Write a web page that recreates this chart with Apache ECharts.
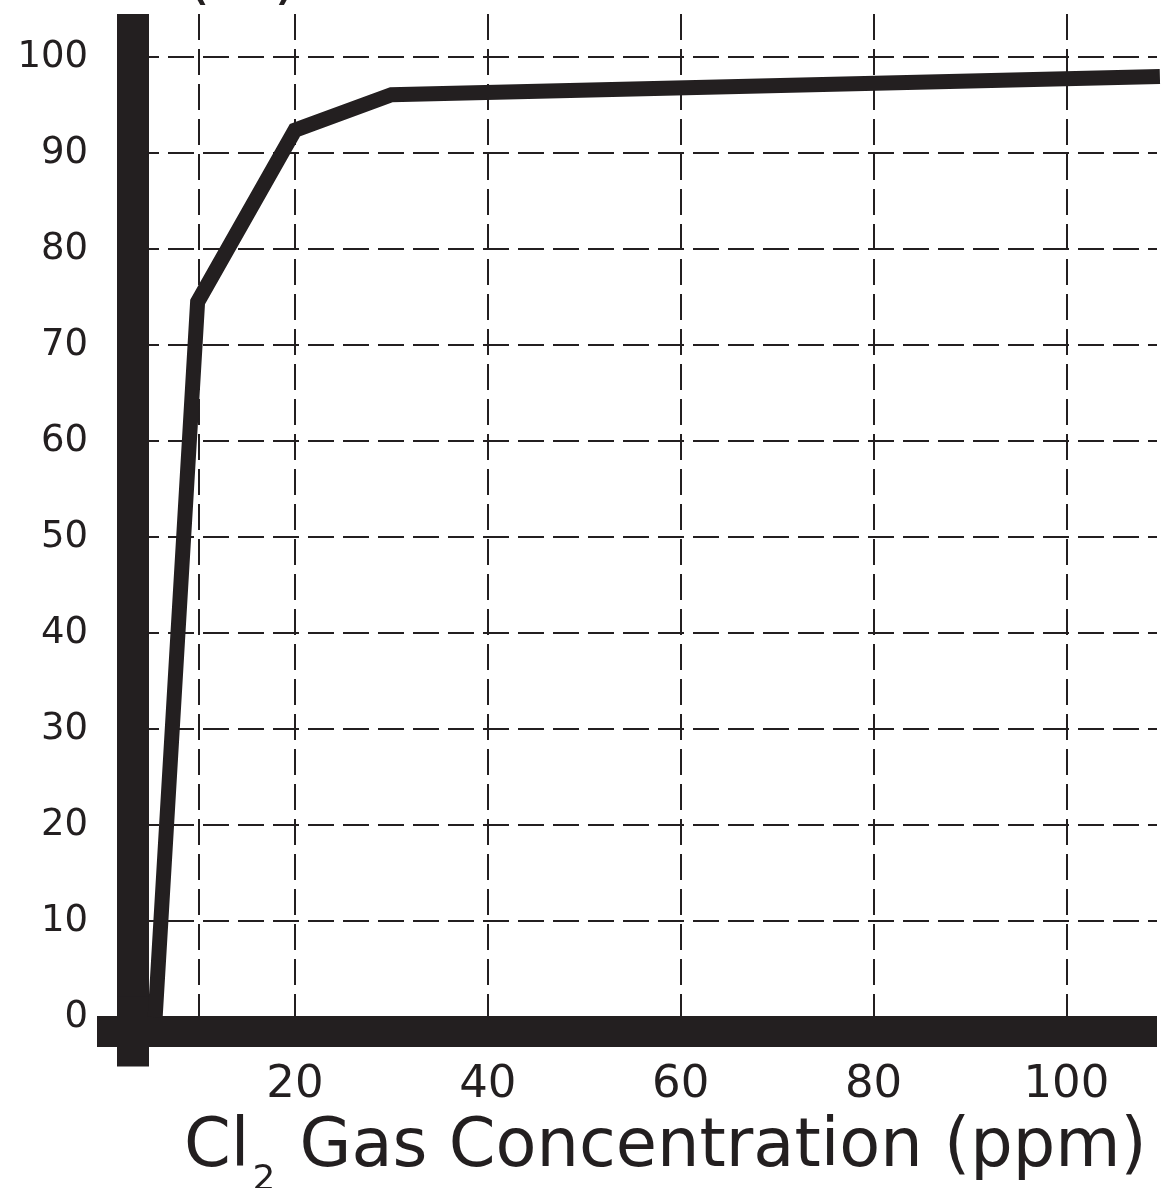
<!DOCTYPE html>
<html>
<head>
<meta charset="utf-8">
<script src="https://cdn.jsdelivr.net/npm/echarts@6/dist/echarts.min.js"></script>
<style>
  html, body { margin: 0; padding: 0; background: #fff; }
</style>
</head>
<body>
<div id="myChart" style="width: 1173px; height: 1188px;"></div>
<script>
// Cl2 concentration (ppm) vs response (%)
const concentration = [5.5, 9.9, 20, 30, 109.7];
const response = [0, 74.5, 92.4, 96.1, 98.0];

const xGridValues = [10, 20, 40, 60, 80, 100];
const xLabelValues = [20, 40, 60, 80, 100];
const yTickValues = [0, 10, 20, 30, 40, 50, 60, 70, 80, 90, 100];

const ink = '#231f20';
const font = 'DejaVu Sans';

let myChart = echarts.init(document.getElementById('myChart'));
myChart.setOption({
  animation: false,
  backgroundColor: '#fff',
  title: [
    {
      text: '{a|Cl}{s|2}{a| Gas Concentration (ppm)}',
      left: 184,
      top: 1115,
      padding: 0,
      textStyle: {
        fontWeight: 'normal',
        rich: {
          a: { fontFamily: font, fontSize: 67, fontWeight: 'normal', color: ink, lineHeight: 80, verticalAlign: 'top' },
          s: { fontFamily: font, fontSize: 36, fontWeight: 'normal', color: ink, lineHeight: 36, verticalAlign: 'top', padding: [48, 3, 0, 3] }
        }
      }
    },
    {
      text: '(%)',
      left: 185,
      top: -61,
      padding: 0,
      textStyle: { fontFamily: font, fontSize: 66, fontWeight: 'normal', color: ink, lineHeight: 80 }
    }
  ],
  grid: {
    left: 133,
    right: 16,
    top: 14,
    bottom: 156.5,
    containLabel: false
  },
  xAxis: {
    type: 'value',
    min: 3.2,
    max: 109.4,
    axisLine: {
      onZero: false,
      symbol: ['rect', 'none'],
      symbolSize: [31, 72],
      lineStyle: { color: ink, width: 31, cap: 'butt' }
    },
    axisTick: { show: false, customValues: xGridValues },
    axisLabel: {
      customValues: xLabelValues,
      margin: 31,
      fontFamily: font,
      fontSize: 45,
      color: ink
    },
    splitLine: {
      show: true,
      lineStyle: { color: ink, width: 2, type: [26, 9] }
    }
  },
  yAxis: {
    type: 'value',
    min: -1.5,
    max: 104.5,
    axisLine: {
      onZero: false,
      symbol: ['rect', 'none'],
      symbolSize: [32, 70],
      lineStyle: { color: ink, width: 32, cap: 'butt' }
    },
    axisTick: { show: false, customValues: yTickValues },
    axisLabel: {
      customValues: yTickValues,
      margin: 45,
      fontFamily: font,
      fontSize: 37,
      color: ink,
      padding: [0, 0, 7, 0]
    },
    splitLine: {
      show: true,
      lineStyle: { color: ink, width: 2, type: [26, 9] }
    }
  },
  series: [
    {
      type: 'line',
      data: concentration.map((c, i) => [c, response[i]]),
      symbol: 'none',
      lineStyle: { color: ink, width: 15, cap: 'butt', join: 'miter' }
    }
  ]
});
</script>
</body>
</html>
